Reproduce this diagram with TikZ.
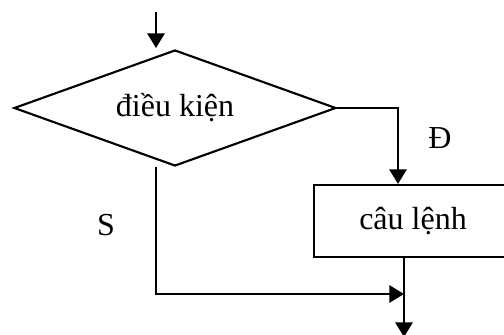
\documentclass[tikz,border=0pt]{standalone}
\usepackage{fontspec}
\setmainfont{Liberation Serif}
\usetikzlibrary{
  shapes.geometric, % For the decision diamond
  arrows.meta % For arrow tips
}

\begin{document}
\begin{tikzpicture}[
      x=0.75pt, y=-0.75pt, % pixel-like units, y downwards
      line width=1.6pt,
      >={Triangle[length=11pt, width=13pt]}, % Default arrow tip
      flow/.style={->}, % Style for flow lines
      decision/.style={draw, diamond, aspect=2.78, inner sep=0pt,
        minimum width=322*0.75pt, minimum height=116*0.75pt},
      stmtbox/.style={draw, rectangle, inner sep=0pt,
        minimum width=198*0.75pt, minimum height=72*0.75pt},
      every node/.style={font=\fontsize{24}{29}\selectfont},
    ]

    \clip (0,0) rectangle (504,335);

    % Knoten
    \node[decision] (cond) at (175,108) {điều kiện};
    \node[stmtbox] (stmt) at (413,221) {câu lệnh};

    % Hilfspunkte
    \coordinate (in) at (156,12);
    \coordinate (inend) at (156,48);
    \coordinate (yes) at (398,108);
    \coordinate (no) at (156,167);
    \coordinate (join) at (404,294);
    \coordinate (out) at (404,337);

    % Eingang
    \draw[flow] (in) -- (inend);

    % Zweig Đ
    \draw[flow] (cond.east) -- (yes) -- (yes |- stmt.north);
    \node at (440,138) {Đ};

    % Zweig S
    \draw[flow] (no) |- (join);
    \node at (106,225) {S};

    % Ausgang
    \draw[flow] (join |- stmt.south) -- (out);
  \end{tikzpicture}
\end{document}
